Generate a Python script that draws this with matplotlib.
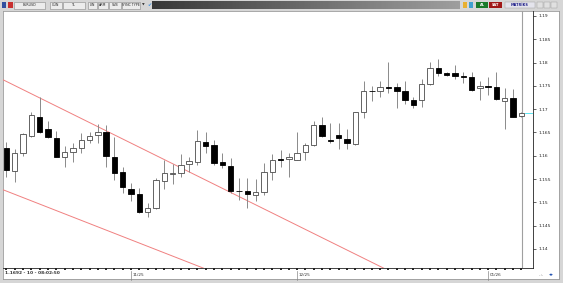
import numpy as np
import matplotlib.pyplot as plt
from matplotlib.patches import Rectangle
from matplotlib.transforms import blended_transform_factory

# EURUSD daily candles
opens = [1.1617, 1.1568, 1.1606, 1.1643, 1.1684, 1.1658, 1.1639, 1.1598, 1.1608, 1.1617,
         1.1634, 1.1644, 1.1650, 1.1598, 1.1565, 1.1529, 1.1518, 1.1479, 1.1487, 1.1546,
         1.1561, 1.1562, 1.1583, 1.1587, 1.1630, 1.1623, 1.1586, 1.1578, 1.1525, 1.1525,
         1.1516, 1.1522, 1.1565, 1.1593, 1.1593, 1.1592, 1.1609, 1.1623, 1.1665, 1.1633,
         1.1645, 1.1636, 1.1625, 1.1693, 1.1739, 1.1738, 1.1747, 1.1747, 1.1738, 1.1720,
         1.1720, 1.1753, 1.1788, 1.1777, 1.1777, 1.1771, 1.1770, 1.1745, 1.1750, 1.1748,
         1.1718, 1.1723, 1.1686]
closes = [1.1570, 1.1607, 1.1647, 1.1688, 1.1650, 1.1641, 1.1598, 1.1609, 1.1617, 1.1634,
          1.1642, 1.1650, 1.1600, 1.1564, 1.1534, 1.1518, 1.1479, 1.1488, 1.1547, 1.1562,
          1.1564, 1.1580, 1.1588, 1.1632, 1.1620, 1.1585, 1.1580, 1.1525, 1.1524, 1.1518,
          1.1523, 1.1565, 1.1591, 1.1592, 1.1598, 1.1607, 1.1623, 1.1665, 1.1643, 1.1632,
          1.1638, 1.1627, 1.1693, 1.1739, 1.1738, 1.1747, 1.1746, 1.1738, 1.1720, 1.1709,
          1.1753, 1.1788, 1.1778, 1.1773, 1.1771, 1.1769, 1.1741, 1.1750, 1.1747, 1.1721,
          1.1723, 1.1684, 1.1692]
highs = [1.1630, 1.1615, 1.1649, 1.1694, 1.1727, 1.1675, 1.1654, 1.1621, 1.1627, 1.1648,
         1.1650, 1.1668, 1.1667, 1.1641, 1.1577, 1.1541, 1.1530, 1.1499, 1.1553, 1.1591,
         1.1582, 1.1604, 1.1597, 1.1655, 1.1652, 1.1634, 1.1605, 1.1595, 1.1552, 1.1552,
         1.1550, 1.1584, 1.1603, 1.1612, 1.1605, 1.1650, 1.1628, 1.1675, 1.1684, 1.1670,
         1.1670, 1.1657, 1.1694, 1.1761, 1.1750, 1.1761, 1.1802, 1.1756, 1.1761, 1.1727,
         1.1764, 1.1802, 1.1807, 1.1780, 1.1795, 1.1780, 1.1780, 1.1761, 1.1768, 1.1779,
         1.1745, 1.1743, 1.1694]
lows = [1.1555, 1.1544, 1.1600, 1.1641, 1.1649, 1.1639, 1.1597, 1.1577, 1.1587, 1.1607,
        1.1627, 1.1627, 1.1577, 1.1547, 1.1520, 1.1504, 1.1478, 1.1469, 1.1485, 1.1528,
        1.1539, 1.1554, 1.1566, 1.1580, 1.1605, 1.1580, 1.1573, 1.1521, 1.1505, 1.1489,
        1.1502, 1.1516, 1.1547, 1.1577, 1.1555, 1.1591, 1.1591, 1.1621, 1.1641, 1.1627,
        1.1615, 1.1614, 1.1623, 1.1682, 1.1718, 1.1727, 1.1734, 1.1702, 1.1711, 1.1702,
        1.1705, 1.1752, 1.1771, 1.1771, 1.1764, 1.1756, 1.1740, 1.1720, 1.1730, 1.1720,
        1.1658, 1.1683, 1.1684]

month_pos = [15, 35, 58]
month_labels = ['11/25', '12/25', '01/26']
price_ticks = [1.14, 1.145, 1.15, 1.155, 1.16, 1.165, 1.17, 1.175, 1.18, 1.185, 1.19]
price_labels = ['1.14', '1.145', '1.15', '1.155', '1.16', '1.165', '1.17', '1.175', '1.18', '1.185', '1.19']

# trend channel anchors (bar index, price)
upper_x = [-0.4, 45.4]
upper_y = [1.1763, 1.1359]
lower_x = [-0.4, 23.7]
lower_y = [1.1527, 1.1359]

last_price = 1.1692
info_text = '1.1692 - 10 - 08:02:50'
toolbar_items = ['EURUSD', 'GÜN', 'TL', 'LIN', 'ARM', 'SVB', 'SYNC TYPE']

W, H = 563, 283


def px(x0, y0, x1, y1):
    return [x0 / W, 1 - y1 / H, (x1 - x0) / W, (y1 - y0) / H]


fig = plt.figure(figsize=(W / 100, H / 100), dpi=100, facecolor='#d6d6d6')

# white chart panel behind everything
panel = fig.add_axes(px(3, 11, 559, 279))
panel.set_facecolor('white')
panel.set_xticks([])
panel.set_yticks([])
for s in panel.spines.values():
    s.set_color('#9a9a9a')
    s.set_linewidth(0.6)

ax = fig.add_axes(px(3, 11, 533, 268))
ax.set_facecolor('none')
n = len(opens)
x = np.arange(n)
ax.set_xlim(-0.42, 63.4)
ax.set_ylim(1.13592, 1.19107)

o = np.array(opens)
c = np.array(closes)
up = c >= o
ax.vlines(x, lows, highs, color='#8a8a8a', linewidth=0.7, zorder=2)
bottoms = np.minimum(o, c)
heights = np.maximum(np.abs(c - o), 0.00008)
ax.bar(x[up], heights[up], bottom=bottoms[up], width=0.65, color='white',
       edgecolor='#4a4a4a', linewidth=0.6, zorder=3)
ax.bar(x[~up], heights[~up], bottom=bottoms[~up], width=0.65, color='black',
       edgecolor='black', linewidth=0.6, zorder=3)

# trend channel
ax.plot(upper_x, upper_y, color='#f08080', linewidth=0.7, zorder=1)
ax.plot(lower_x, lower_y, color='#f08080', linewidth=0.7, zorder=1)

# current bar marker and last price line
ax.axvline(n - 1 + 0.1, color='#a0a0a0', linewidth=0.8, zorder=1)
ax.plot([n - 1 + 0.4, 63.4], [last_price, last_price], color='#40e0f0', linewidth=0.6)

# price scale on the right
ax.yaxis.tick_right()
ax.set_yticks(price_ticks)
ax.set_yticklabels(price_labels, fontsize=3.2)
ax.tick_params(axis='y', length=2.5, width=0.5, pad=1.5, colors='#222222')

# dotted time scale
ax.set_xticks(x)
ax.set_xticklabels([])
ax.tick_params(axis='x', length=1.2, width=1.2, pad=0, colors='black', direction='out')
tr = blended_transform_factory(ax.transData, ax.transAxes)
for pos, lab in zip(month_pos, month_labels):
    ax.plot([pos, pos], [-0.012, -0.045], transform=tr, clip_on=False,
            color='#888888', linewidth=0.5)
    ax.text(pos + 0.15, -0.028, lab, transform=tr, fontsize=3, va='center',
            ha='left', color='#333333')

ax.spines['top'].set_visible(False)
ax.spines['left'].set_visible(False)
ax.spines['right'].set_color('#222222')
ax.spines['right'].set_linewidth(0.6)
ax.spines['bottom'].set_color('#222222')
ax.spines['bottom'].set_linewidth(0.6)

fig.text(5 / W, 1 - 273 / H, info_text, fontsize=3.2, fontweight='bold',
         color='#333333', va='center', ha='left')

# toolbar strip on top
tb = fig.add_axes(px(0, 0, W, 10))
tb.axis('off')
tb.add_patch(Rectangle((0, 0), W, 10, color='#d6d6d6', zorder=0))
grad = np.linspace(0.22, 0.62, 256).reshape(1, -1)
tb.imshow(grad, extent=(152, 460, 9, 1), cmap='gray', vmin=0, vmax=1,
          aspect='auto', zorder=1)
tb.set_xlim(0, W)
tb.set_ylim(10, 0)
boxes = [(14, 45), (50, 62), (63, 85), (88, 97), (98, 108), (109, 121), (122, 140)]
for (bx0, bx1), item in zip(boxes, toolbar_items):
    tb.add_patch(Rectangle((bx0, 1.5), bx1 - bx0, 7, facecolor='#ececec',
                           edgecolor='#8a8a8a', linewidth=0.4, zorder=2))
    tb.text((bx0 + bx1) / 2, 5, item, fontsize=2.3, ha='center', va='center',
            color='#222222', zorder=3)
tb.add_patch(Rectangle((1.5, 2), 4, 6, facecolor='#3050a0', edgecolor='none', zorder=2))
tb.add_patch(Rectangle((8, 2), 5, 6, facecolor='#c83030', edgecolor='none', zorder=2))
tb.text(143.5, 5, '▼', fontsize=2.5, ha='center', va='center', color='#333333', zorder=3)
tb.text(149, 5, '✔', fontsize=3.5, ha='center', va='center', color='#3a8ee0', zorder=3)
tb.add_patch(Rectangle((463, 2), 4, 6, facecolor='#e8b030', edgecolor='none', zorder=2))
tb.add_patch(Rectangle((469, 2), 4, 6, facecolor='#40a0d0', edgecolor='none', zorder=2))
tb.add_patch(Rectangle((476, 2), 12, 6, facecolor='#1a7a2a', edgecolor='none', zorder=2))
tb.text(482, 5, 'AL', fontsize=2.5, ha='center', va='center', color='white',
        fontweight='bold', zorder=3)
tb.add_patch(Rectangle((489, 2), 13, 6, facecolor='#a01818', edgecolor='none', zorder=2))
tb.text(495.5, 5, 'SAT', fontsize=2.5, ha='center', va='center', color='white',
        fontweight='bold', zorder=3)
tb.add_patch(Rectangle((505, 2), 30, 6, facecolor='#e4e4ec', edgecolor='#9a9a9a',
                       linewidth=0.3, zorder=2))
tb.text(520, 5, 'MATRİKS', fontsize=2.5, ha='center', va='center', color='#20208a',
        fontweight='bold', zorder=3)
for bx in [537, 544, 551]:
    tb.add_patch(Rectangle((bx, 2), 6, 6, facecolor='#e0e0e0', edgecolor='#9a9a9a',
                           linewidth=0.3, zorder=2))

# bottom right icons
fig.text(539 / W, 1 - 275 / H, '..:.', fontsize=3, color='#555555', va='center')
fig.text(549 / W, 1 - 275 / H, '◂▸', fontsize=3.5, color='#2050b0', va='center')

fig.savefig('out.png', dpi=100, facecolor=fig.get_facecolor())
